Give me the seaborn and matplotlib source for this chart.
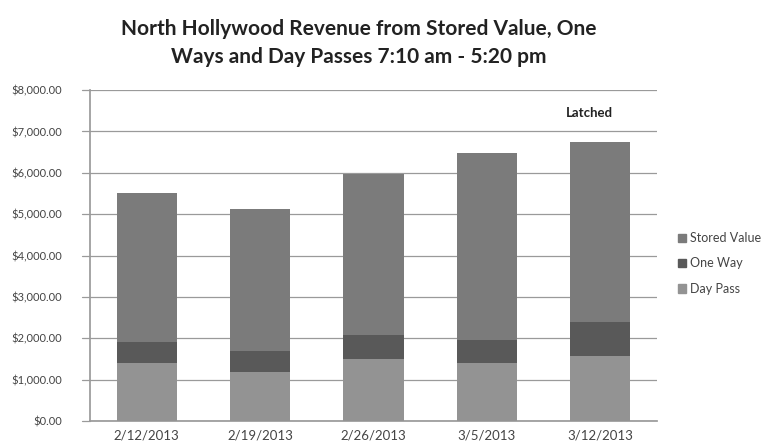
import pandas as pd
import matplotlib.pyplot as plt
import matplotlib.patches as mpatches
import seaborn as sns

# data
dates = ['2/12/2013', '2/19/2013', '2/26/2013', '3/5/2013', '3/12/2013']
day_pass = [1410, 1180, 1500, 1400, 1560]
one_way = [510, 510, 590, 560, 830]
stored_value = [3580, 3440, 3870, 4520, 4360]

df = pd.DataFrame({'Date': dates, 'Day Pass': day_pass,
                   'One Way': one_way, 'Stored Value': stored_value})
df['DP+OW'] = df['Day Pass'] + df['One Way']
df['Total'] = df['DP+OW'] + df['Stored Value']

sns.set_theme(style="white")
plt.rcParams['font.family'] = ['Lato', 'DejaVu Sans']

col_sv = '#7b7b7b'
col_ow = '#595959'
col_dp = '#939393'

fig = plt.figure(figsize=(7.73, 4.48), dpi=100)
ax = fig.add_axes([0.1164, 0.0603, 0.7336, 0.7387])

# stacked bars: draw cumulative totals back to front
for col, c, z in [('Total', col_sv, 2), ('DP+OW', col_ow, 3), ('Day Pass', col_dp, 4)]:
    sns.barplot(data=df, x='Date', y=col, color=c, width=0.53,
                saturation=1, linewidth=0, ax=ax, zorder=z)

ax.set_ylim(0, 8000)
ax.set_xlim(-0.5, 4.5)
ax.set_yticks(range(0, 8001, 1000))
ax.set_yticklabels([f"${v:,.2f}" for v in range(0, 8001, 1000)],
                   fontsize=8, color='#444444')
ax.tick_params(axis='x', labelsize=9.5, colors='#444444', length=0, pad=6)
ax.tick_params(axis='y', length=0, pad=20)
ax.set_xlabel('')
ax.set_ylabel('')

ax.grid(axis='y', color='#9a9a9a', linewidth=0.9, zorder=0)
ax.set_axisbelow(True)
for s in ['top', 'right']:
    ax.spines[s].set_visible(False)
ax.spines['left'].set_color('#9a9a9a')
ax.spines['bottom'].set_color('#9a9a9a')

# small outward tick marks like Excel
for v in range(0, 8001, 1000):
    ax.plot([-0.57, -0.5], [v, v], color='#9a9a9a', lw=0.9, clip_on=False)

ax.text(3.9, 7300, 'Latched', ha='center', va='bottom', fontsize=9.5,
        fontweight='bold', color='#222222')

fig.text(0.464, 0.935, 'North Hollywood Revenue from Stored Value, One',
         ha='center', va='center', fontsize=15, fontweight='bold', color='#222222')
fig.text(0.464, 0.872, 'Ways and Day Passes 7:10 am - 5:20 pm',
         ha='center', va='center', fontsize=15, fontweight='bold', color='#222222')

handles = [mpatches.Patch(color=col_sv, label='Stored Value'),
           mpatches.Patch(color=col_ow, label='One Way'),
           mpatches.Patch(color=col_dp, label='Day Pass')]
fig.legend(handles=handles, loc='center left', bbox_to_anchor=(0.862, 0.412),
           frameon=False, fontsize=9, handlelength=0.7, handleheight=0.7,
           handletextpad=0.3, labelspacing=1.05, labelcolor='#444444')

fig.savefig('out.png', dpi=100)
